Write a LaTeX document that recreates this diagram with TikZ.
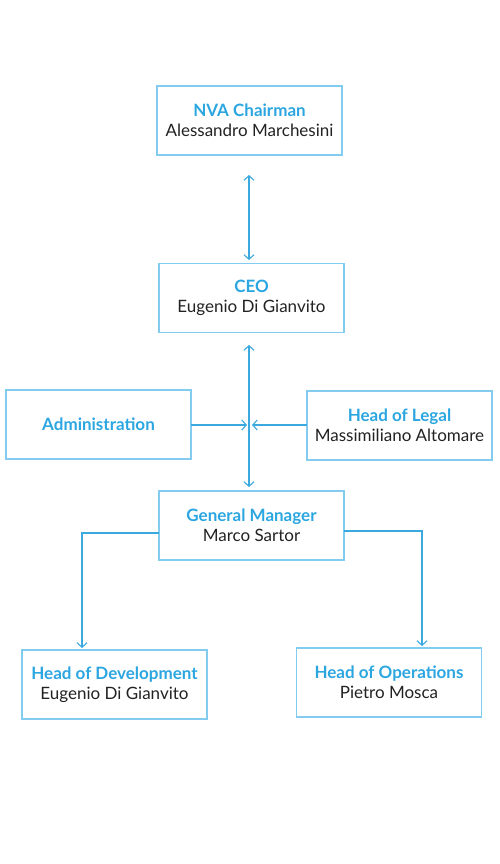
\documentclass[tikz,border=0pt]{standalone}
\usepackage{fontspec}
\setmainfont{Lato}
\usetikzlibrary{arrows.meta}
\definecolor{orgblue}{HTML}{2BA6E0}
\definecolor{orgframe}{HTML}{84CCEF}
\definecolor{orgline}{HTML}{3BA9E0}
\definecolor{orgtext}{HTML}{222222}
\newcommand{\roletitle}[1]{{\bfseries\color{orgblue}#1}}

\begin{document}
\begin{tikzpicture}[x=1pt,y=-1pt,inner sep=0pt,outer sep=0pt,
	orgbox/.style={draw=orgframe, line width=1.2pt, minimum width=185pt, minimum height=69pt,
		align=center, text=orgtext, font=\fontsize{17}{20}\selectfont},
	link/.style={draw=orgline, line width=1.1pt, -{Straight Barb[length=4.5pt,width=10pt,line width=1.1pt]}},
	dlink/.style={link, {Straight Barb[length=4.5pt,width=10pt,line width=1.1pt]}-{Straight Barb[length=4.5pt,width=10pt,line width=1.1pt]}}]
	\useasboundingbox (0,0) rectangle (500,864);

	\node[orgbox] at (249.5,120.5) (chair) {\roletitle{NVA Chairman}\\Alessandro Marchesini};
	\node[orgbox] at (251.5,298) (ceo) {\roletitle{CEO}\\Eugenio Di Gianvito};
	\node[orgbox] at (98.5,424.5) (admin) {\roletitle{Administration}};
	\node[orgbox] at (399.5,425.5) (legal) {\roletitle{Head of Legal}\\Massimiliano Altomare};
	\node[orgbox] at (251.5,525.5) (gm) {\roletitle{General Manager}\\Marco Sartor};
	\node[orgbox] at (114.5,684.5) (dev) {\roletitle{Head of Development}\\Eugenio Di Gianvito};
	\node[orgbox] at (389,682.5) (ops) {\roletitle{Head of Operations}\\Pietro Mosca};

	\coordinate (chairlow) at (249,175);
	\coordinate (ceotop) at (249,260);
	\coordinate (ceolow) at (249,345);
	\coordinate (gmtop) at (249,487);
	\coordinate (meet) at (249,425);

	\draw[dlink] (chairlow) -- (ceotop);
	\draw[dlink] (ceolow) -- (gmtop);

	\draw[link, shorten >=2pt] (admin.east |- meet) -- (meet);
	\draw[link, shorten >=3pt] (legal.west |- meet) -- (meet);

	\draw[link, shorten >=2pt] ([yshift=-7.5pt]gm.west) -| ([xshift=-32.5pt]dev.north);
	\draw[link, shorten >=2pt] ([yshift=-5.5pt]gm.east) -| ([xshift=33pt]ops.north);
\end{tikzpicture}
\end{document}
